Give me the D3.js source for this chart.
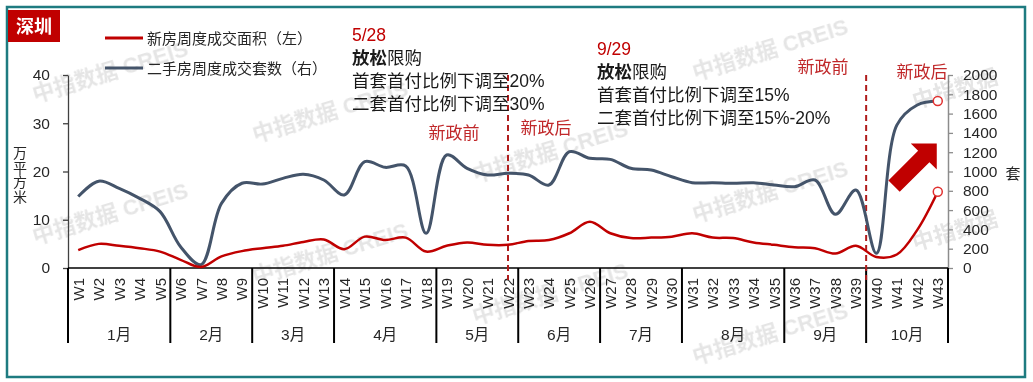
<!DOCTYPE html>
<html><head><meta charset="utf-8">
<script src="https://cdn.jsdelivr.net/npm/d3@7"></script>
<style>
body{margin:0;background:#fff}
svg{display:block}
text{font-family:"Liberation Sans","Noto Sans CJK SC",sans-serif}
</style>
</head><body>
<svg id="c" width="1033" height="382"></svg>
<script>
// ---------- data ----------
const weeks = d3.range(1, 44).map(i => "W" + i);
const months = ["1月","2月","3月","4月","5月","6月","7月","8月","9月","10月"];
const monthWeekCounts = [5,4,4,5,4,4,4,5,4,4];
const newHouseArea = [3.7,5.0,4.6,4.1,3.4,1.7,0.2,2.4,3.5,4.1,4.6,5.4,5.9,3.9,6.5,5.8,6.3,3.4,4.6,5.3,4.8,4.8,5.6,5.8,7.2,9.6,7.2,6.2,6.3,6.5,7.2,6.3,6.2,5.3,4.8,4.3,4.1,3.0,4.6,2.3,2.8,7.9,15.8];
const secondHandUnits = [740,900,826,722,584,221,35,670,878,870,929,971,912,756,1102,1043,1057,359,1171,1033,964,981,964,860,1205,1137,1126,1033,1015,946,884,884,878,884,860,843,912,556,808,152,1480,1689,1730];
const leftTicks = [0,10,20,30,40];
const rightTicks = [0,200,400,600,800,1000,1200,1400,1600,1800,2000];
const seriesNames = ["新房周度成交面积（左）","二手房周度成交套数（右）"];
const policy1 = ["5/28","放松","限购","首套首付比例下调至20%","二套首付比例下调至30%"];
const policy2 = ["9/29","放松","限购","首套首付比例下调至15%","二套首付比例下调至15%-20%"];
const policyWeeks = ["W22","W40"];

// ---------- layout ----------
const L = 68, R = 948, T = 75, B = 268;
const RED = "#c00000", GRAY = "#44546a";
const svg = d3.select("#c");
svg.append("rect").attr("width",1033).attr("height",382).attr("fill","#fff");
svg.append("rect").attr("x",7).attr("y",7).attr("width",1018).attr("height",370)
  .attr("fill","none").attr("stroke","#1e7b80").attr("stroke-width",2.5);

const x = d3.scaleBand().domain(weeks).range([L, R]);
const xc = w => x(w) + x.bandwidth() / 2;
const yL = d3.scaleLinear().domain([0,40]).range([B,T]);
const yR = d3.scaleLinear().domain([0,2000]).range([B,T]);

// watermarks (behind)
const wm = svg.append("g").attr("pointer-events","none").attr("opacity",0.15);
for (let i = 0; i < 5; i++) {
  for (let k = -2; k <= 2; k++) {
    let cx = 110 + 220*i;
    const cy = 213 + 40*i + 142*k;
    if (cy < 47 || cy > 335) continue;
    let label = "中指数据 CREIS";
    if (i === 4) { label = "中指数据"; cx = 955; }
    wm.append("text").attr("transform",`translate(${cx},${cy}) rotate(-17)`)
      .attr("text-anchor","middle").attr("dominant-baseline","central")
      .attr("font-size",22).attr("font-weight","bold").attr("fill","#555").text(label);
  }
}

// left axis
const gl = svg.append("g").attr("transform",`translate(${L},0)`)
  .call(d3.axisLeft(yL).tickValues(leftTicks).tickSize(5).tickSizeOuter(0).tickPadding(13).tickFormat(d3.format("d")));
gl.select(".domain").attr("stroke","#404040").attr("stroke-width",1.3);
gl.selectAll(".tick line").attr("stroke","#404040").attr("stroke-width",1.3);
gl.selectAll(".tick text").attr("font-size",15.5).attr("fill","#262626")
  .attr("font-family","Liberation Sans, sans-serif");

// right axis
const gr = svg.append("g").attr("transform",`translate(${R},0)`)
  .call(d3.axisRight(yR).tickValues(rightTicks).tickSize(5).tickSizeOuter(0).tickPadding(10).tickFormat(d3.format("d")));
gr.select(".domain").attr("stroke","#8c8c8c").attr("stroke-width",1.5);
gr.selectAll(".tick line").attr("stroke","#8c8c8c").attr("stroke-width",1.3);
gr.selectAll(".tick text").attr("font-size",15.5).attr("fill","#262626")
  .attr("font-family","Liberation Sans, sans-serif");

// axis titles
const ytitle = "万平方米".split("");
svg.append("g").selectAll("text").data(ytitle).join("text")
  .attr("x",20).attr("y",(d,i)=>153 + i*14.5).attr("text-anchor","middle")
  .attr("dominant-baseline","central").attr("font-size",14).attr("fill","#262626").text(d=>d);
svg.append("text").attr("x",1013).attr("y",173).attr("text-anchor","middle")
  .attr("dominant-baseline","central").attr("font-size",15).attr("fill","#262626").text("套");

// x baseline & categories
svg.append("line").attr("x1",L).attr("x2",R).attr("y1",B).attr("y2",B)
  .attr("stroke","#000").attr("stroke-width",1.5);
svg.append("g").selectAll("text").data(weeks).join("text")
  .attr("transform", w => `translate(${xc(w)},278) rotate(-90)`)
  .attr("text-anchor","end").attr("dominant-baseline","central")
  .attr("font-size",15).attr("fill","#262626")
  .attr("font-family","Liberation Sans, sans-serif").text(w=>w);

let idx = 0;
const bounds = [L];
const monthCenters = [];
monthWeekCounts.forEach(n => {
  const start = x(weeks[idx]);
  idx += n;
  const end = idx < weeks.length ? x(weeks[idx]) : R;
  bounds.push(end);
  monthCenters.push((start + end) / 2);
});
svg.append("g").selectAll("line").data(bounds).join("line")
  .attr("x1",d=>d).attr("x2",d=>d).attr("y1",B).attr("y2",343)
  .attr("stroke","#000").attr("stroke-width",2);
svg.append("g").selectAll("text").data(months).join("text")
  .attr("x",(d,i)=>monthCenters[i]).attr("y",334).attr("text-anchor","middle")
  .attr("dominant-baseline","central").attr("font-size",15.5).attr("fill","#262626").text(d=>d);

// policy dashed lines
const policyX = [xc(policyWeeks[0]), x(policyWeeks[1])];
svg.append("g").selectAll("line").data(policyX).join("line")
  .attr("x1",d=>d).attr("x2",d=>d).attr("y1",T).attr("y2",280)
  .attr("stroke","#b01c1c").attr("stroke-width",2).attr("stroke-dasharray","6,4");

// series lines
const curve = d3.curveCatmullRom.alpha(0.5);
svg.append("path").datum(secondHandUnits)
  .attr("d", d3.line().x((d,i)=>xc(weeks[i])).y(d=>yR(d)).curve(curve))
  .attr("fill","none").attr("stroke",GRAY).attr("stroke-width",3);
svg.append("path").datum(newHouseArea)
  .attr("d", d3.line().x((d,i)=>xc(weeks[i])).y(d=>yL(d)).curve(curve))
  .attr("fill","none").attr("stroke",RED).attr("stroke-width",2.5);

// end markers
const last = weeks.length - 1;
svg.append("g").selectAll("circle")
  .data([yR(secondHandUnits[last]), yL(newHouseArea[last])]).join("circle")
  .attr("cx", xc(weeks[last])).attr("cy", d=>d).attr("r",4.5)
  .attr("fill","#fff").attr("stroke","#e0302f").attr("stroke-width",1.5);

// red arrow (decoration)
{
  const tx = xc(weeks[last]) - 1, ty = yR(1290);
  const s = 26, w = 8, len = 42;
  const hm = [tx - s/2, ty + s/2];
  const n = [Math.SQRT1_2, Math.SQRT1_2], dd = [-Math.SQRT1_2, Math.SQRT1_2];
  const p = [
    [tx, ty], [tx, ty + s],
    [hm[0] + n[0]*w, hm[1] + n[1]*w],
    [hm[0] + n[0]*w + dd[0]*len, hm[1] + n[1]*w + dd[1]*len],
    [hm[0] - n[0]*w + dd[0]*len, hm[1] - n[1]*w + dd[1]*len],
    [hm[0] - n[0]*w, hm[1] - n[1]*w],
    [tx - s, ty]
  ];
  svg.append("polygon").attr("points", p.map(q=>q.join(",")).join(" ")).attr("fill",RED);
}

// annotations
function policyBlock(lines, x0, y0) {
  const g = svg.append("g").attr("font-size",17.5);
  g.append("text").attr("x",x0).attr("y",y0).attr("dominant-baseline","central")
    .attr("fill",RED).attr("font-family","Liberation Sans, sans-serif").text(lines[0]);
  const t = g.append("text").attr("x",x0).attr("y",y0+23).attr("dominant-baseline","central").attr("fill","#1a1a1a");
  t.append("tspan").attr("font-weight","bold").text(lines[1]);
  t.append("tspan").text(lines[2]);
  g.append("text").attr("x",x0).attr("y",y0+46).attr("dominant-baseline","central").attr("fill","#1a1a1a").text(lines[3]);
  g.append("text").attr("x",x0).attr("y",y0+69).attr("dominant-baseline","central").attr("fill","#1a1a1a").text(lines[4]);
}
policyBlock(policy1, 352, 35);
policyBlock(policy2, 597, 49);

const phase = [["新政前",454,133],["新政后",546,128],["新政前",823,67],["新政后",922,72]];
svg.append("g").selectAll("text").data(phase).join("text")
  .attr("x",d=>d[1]).attr("y",d=>d[2]).attr("text-anchor","middle")
  .attr("dominant-baseline","central").attr("font-size",17).attr("fill","#c0282a").text(d=>d[0]);

// legend
const lg = svg.append("g");
[RED, GRAY].forEach((c,i) => {
  const yy = 38 + i*30;
  lg.append("line").attr("x1",105).attr("x2",143).attr("y1",yy).attr("y2",yy)
    .attr("stroke",c).attr("stroke-width",3);
  lg.append("text").attr("x",147).attr("y",yy).attr("dominant-baseline","central")
    .attr("font-size",15).attr("fill","#262626").text(seriesNames[i]);
});

// city tag
svg.append("rect").attr("x",8).attr("y",10).attr("width",52).attr("height",32).attr("fill",RED);
svg.append("text").attr("x",34).attr("y",26.5).attr("text-anchor","middle").attr("dominant-baseline","central")
  .attr("font-size",18).attr("font-weight","bold").attr("fill","#fff").text("深圳");
</script>
</body></html>
